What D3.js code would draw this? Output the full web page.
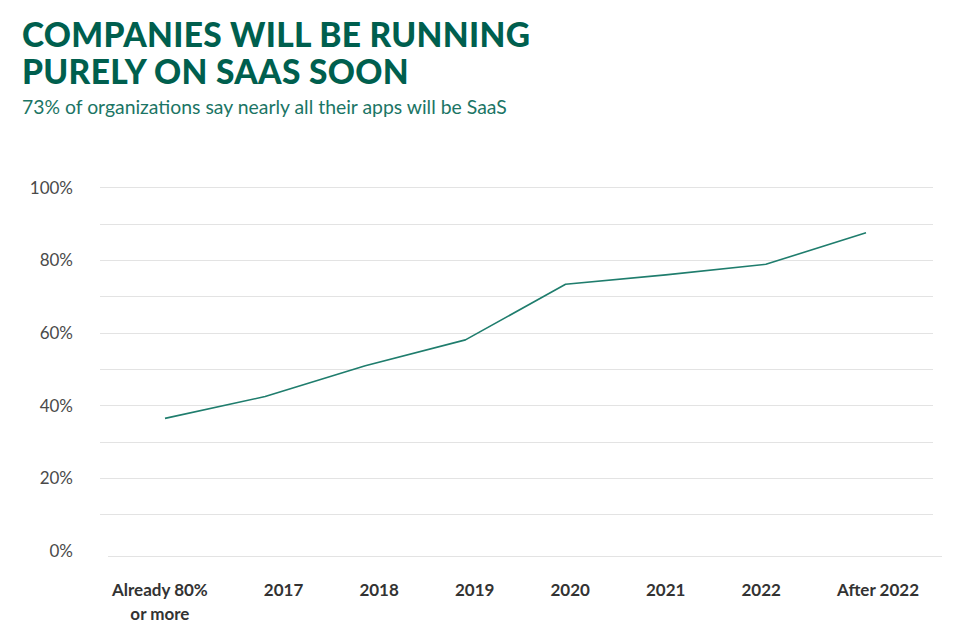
<!DOCTYPE html>
<html>
<head>
<meta charset="utf-8">
<script src="https://cdn.jsdelivr.net/npm/d3@7"></script>
<style>
  html, body { margin: 0; padding: 0; background: #ffffff; }
  svg { display: block; }
</style>
</head>
<body>
<svg id="chart" width="961" height="630"></svg>
<script>
// ---- data ----
const titleLines = ["COMPANIES WILL BE RUNNING", "PURELY ON SAAS SOON"];
const subtitle = "73% of organizations say nearly all their apps will be SaaS";
const categories = ["Already 80%|or more", "2017", "2018", "2019", "2020", "2021", "2022", "After 2022"];
const values = [36.4, 42.4, 50.9, 58.0, 73.3, 75.9, 78.8, 87.5];
const yTicks = [0, 20, 40, 60, 80, 100];
const yGrid = [10, 20, 30, 40, 50, 60, 70, 80, 90, 100];

// ---- styles ----
const titleColor = "#005f4e";
const subColor = "#1b7565";
const lineColor = "#1f7d6d";
const gridColor = "#e3e3e3";
const tickColor = "#4a4a4a";
const xLabelColor = "#333333";
const fontFamily = "Lato, 'Open Sans', sans-serif";

const svg = d3.select("#chart");

// titles
const titleG = svg.append("g");
const titleBaselines = [47, 84];
titleLines.forEach((t, i) => {
  titleG.append("text")
    .attr("x", 22).attr("y", titleBaselines[i])
    .attr("font-family", fontFamily)
    .attr("font-weight", 900)
    .attr("font-size", 36)
    .attr("fill", titleColor)
    .attr("letter-spacing", 0.3)
    .text(t);
});
// fit first title line to measured width
(function () {
  const first = titleG.select("text").node();
  const w = first.getComputedTextLength();
  const target = 508;
  const fs = 36 * target / w;
  titleG.selectAll("text").attr("font-size", Math.min(fs, 40));
})();

const sub = svg.append("text")
  .attr("x", 22).attr("y", 114)
  .attr("font-family", fontFamily)
  .attr("font-size", 18)
  .attr("fill", subColor)
  .text(subtitle);
(function () {
  const w = sub.node().getComputedTextLength();
  const fs = 18 * 485 / w;
  sub.attr("font-size", Math.max(16, Math.min(fs, 20)));
})();

// scales
const y = d3.scaleLinear().domain([0, 100]).range([550.6, 187.3]);
const x = d3.scalePoint().domain(categories).range([165, 866]);

// gridlines
svg.append("g").selectAll("line")
  .data(yGrid).join("line")
  .attr("x1", 100).attr("x2", 933)
  .attr("y1", d => Math.round(y(d)) + 0.5)
  .attr("y2", d => Math.round(y(d)) + 0.5)
  .attr("stroke", gridColor).attr("stroke-width", 1);

// baseline axis
svg.append("line")
  .attr("x1", 108).attr("x2", 942)
  .attr("y1", 556.5).attr("y2", 556.5)
  .attr("stroke", gridColor).attr("stroke-width", 1.2);

// y axis
const yAxis = d3.axisLeft(y).tickValues(yTicks).tickFormat(d => d + "%").tickSize(0).tickPadding(0);
const yg = svg.append("g").attr("transform", "translate(73,0)").call(yAxis);
yg.select(".domain").remove();
yg.selectAll("text")
  .attr("font-family", fontFamily)
  .attr("font-size", 17)
  .attr("fill", tickColor)
  .attr("dy", "0.35em");

// line
const line = d3.line()
  .x((d, i) => x(categories[i]))
  .y(d => y(d));
svg.append("path")
  .datum(values)
  .attr("d", line)
  .attr("fill", "none")
  .attr("stroke", lineColor)
  .attr("stroke-width", 1.6)
  .attr("stroke-linejoin", "round");

// x labels: laid out with equal gaps between labels across the label band
const xg = svg.append("g");
const labels = xg.selectAll("text")
  .data(categories).join("text")
  .attr("font-family", fontFamily)
  .attr("font-weight", 700)
  .attr("font-size", 17)
  .attr("fill", xLabelColor)
  .attr("text-anchor", "middle");
labels.each(function (d) {
  const parts = d.split("|");
  const t = d3.select(this);
  parts.forEach((p, i) => {
    t.append("tspan").attr("x", 0).attr("dy", i === 0 ? 0 : 24).text(p);
  });
});
// measure widths (widest line of each label)
const widths = [];
labels.each(function () {
  let w = 0;
  d3.select(this).selectAll("tspan").each(function () { w = Math.max(w, this.getComputedTextLength()); });
  widths.push(w);
});
const bandStart = 112, bandEnd = 919;
const totalW = d3.sum(widths);
const gap = (bandEnd - bandStart - totalW) / (categories.length - 1);
let cursor = bandStart;
const centers = widths.map(w => { const c = cursor + w / 2; cursor += w + gap; return c; });
labels.attr("transform", (d, i) => `translate(${centers[i]},596)`);
</script>
</body>
</html>
